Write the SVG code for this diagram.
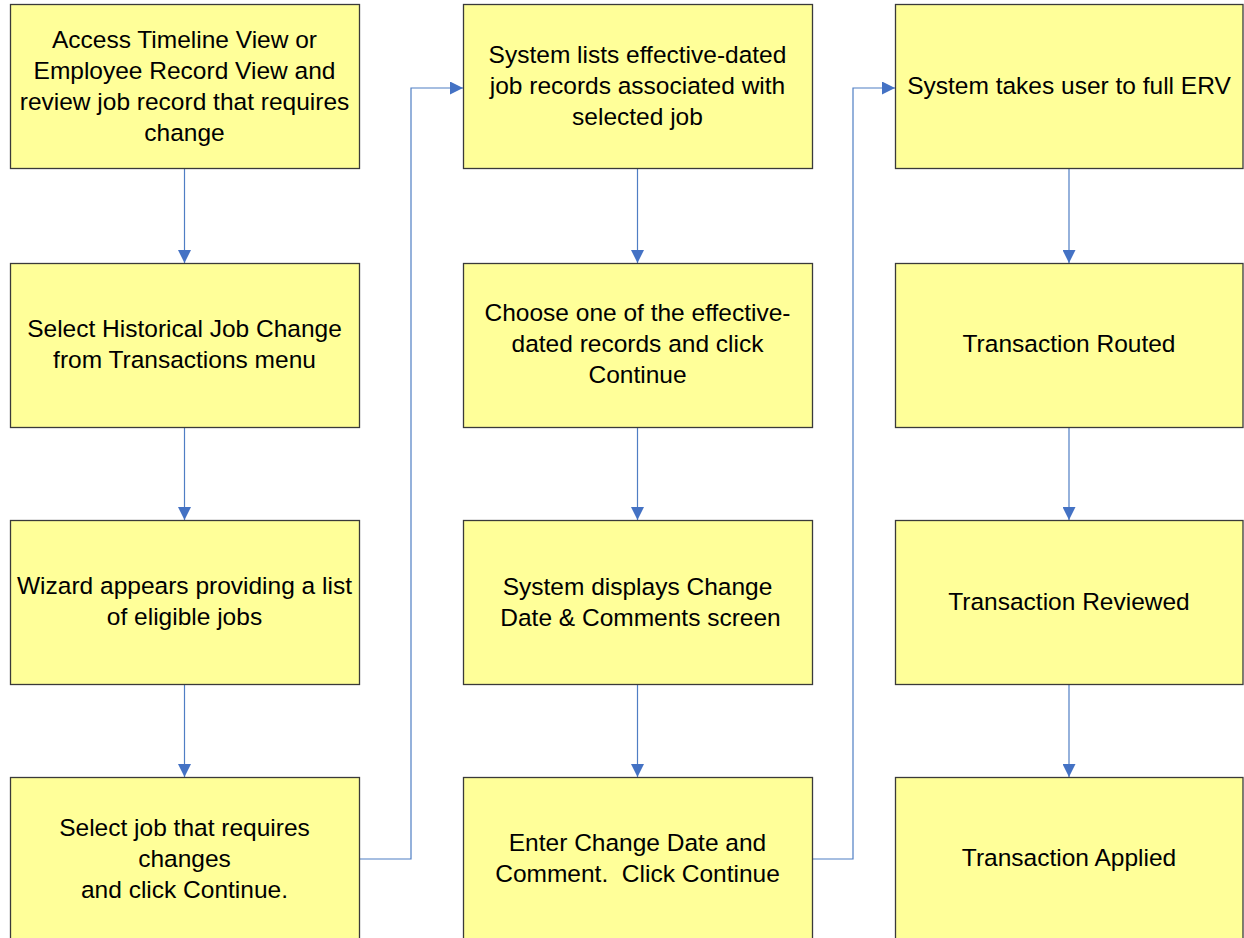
<svg xmlns="http://www.w3.org/2000/svg" width="1244" height="938" viewBox="0 0 1244 938">
<style>
.box{fill:#FFFF99;stroke:#3a3a3a;stroke-width:1.3}
.t{font-family:"Liberation Sans",Arial,sans-serif;font-size:24.5px;fill:#000;text-anchor:middle}
.c{fill:none;stroke:#4F7EC4;stroke-width:1.2}
</style>
<defs>
<marker id="ah" markerWidth="13" markerHeight="13" refX="13" refY="6.5" orient="auto" markerUnits="userSpaceOnUse">
<path d="M0,0 L13,6.5 L0,13 Z" fill="#4472C4"/>
</marker>
</defs>
<rect width="1244" height="938" fill="#fff"/>
<g id="connectors">
<line class="c" x1="184.5" y1="168" x2="184.5" y2="263" marker-end="url(#ah)"/>
<line class="c" x1="184.5" y1="427" x2="184.5" y2="520" marker-end="url(#ah)"/>
<line class="c" x1="184.5" y1="684" x2="184.5" y2="777" marker-end="url(#ah)"/>
<polyline class="c" points="359,859 411,859 411,88 463,88" marker-end="url(#ah)"/>
<line class="c" x1="637.5" y1="168" x2="637.5" y2="263" marker-end="url(#ah)"/>
<line class="c" x1="637.5" y1="427" x2="637.5" y2="520" marker-end="url(#ah)"/>
<line class="c" x1="637.5" y1="684" x2="637.5" y2="777" marker-end="url(#ah)"/>
<polyline class="c" points="812,859 853,859 853,88 895,88" marker-end="url(#ah)"/>
<line class="c" x1="1069" y1="168" x2="1069" y2="263" marker-end="url(#ah)"/>
<line class="c" x1="1069" y1="427" x2="1069" y2="520" marker-end="url(#ah)"/>
<line class="c" x1="1069" y1="684" x2="1069" y2="777" marker-end="url(#ah)"/>
</g>
<g id="n1"><rect class="box" x="10.5" y="4.5" width="349" height="164"/>
<text class="t"><tspan x="184.5" y="48">Access Timeline View or</tspan><tspan x="184.5" y="79">Employee Record View and</tspan><tspan x="184.5" y="110">review job record that requires</tspan><tspan x="184.5" y="141">change</tspan></text></g>
<g id="n2"><rect class="box" x="10.5" y="263.5" width="349" height="164"/>
<text class="t"><tspan x="184.5" y="337">Select Historical Job Change</tspan><tspan x="184.5" y="368">from Transactions menu</tspan></text></g>
<g id="n3"><rect class="box" x="10.5" y="520.5" width="349" height="164"/>
<text class="t"><tspan x="184.5" y="594">Wizard appears providing a list</tspan><tspan x="184.5" y="625">of eligible jobs</tspan></text></g>
<g id="n4"><rect class="box" x="10.5" y="777.5" width="349" height="170"/>
<text class="t"><tspan x="184.5" y="836">Select job that requires</tspan><tspan x="184.5" y="867">changes</tspan><tspan x="184.5" y="898">and click Continue.</tspan></text></g>
<g id="n5"><rect class="box" x="463.5" y="4.5" width="349" height="164"/>
<text class="t"><tspan x="637.5" y="63">System lists effective-dated</tspan><tspan x="637.5" y="94">job records associated with</tspan><tspan x="637.5" y="125">selected job</tspan></text></g>
<g id="n6"><rect class="box" x="463.5" y="263.5" width="349" height="164"/>
<text class="t"><tspan x="637.5" y="321">Choose one of the effective-</tspan><tspan x="637.5" y="352">dated records and click</tspan><tspan x="637.5" y="383">Continue</tspan></text></g>
<g id="n7"><rect class="box" x="463.5" y="520.5" width="349" height="164"/>
<text class="t"><tspan x="637.5" y="595">System displays Change</tspan><tspan x="640.5" y="626">Date &amp; Comments screen</tspan></text></g>
<g id="n8"><rect class="box" x="463.5" y="777.5" width="349" height="170"/>
<text class="t"><tspan x="637.5" y="851">Enter Change Date and</tspan><tspan x="637.5" y="882" xml:space="preserve">Comment.  Click Continue</tspan></text></g>
<g id="n9"><rect class="box" x="895.5" y="4.5" width="347.5" height="164"/>
<text class="t"><tspan x="1069" y="94">System takes user to full ERV</tspan></text></g>
<g id="n10"><rect class="box" x="895.5" y="263.5" width="347.5" height="164"/>
<text class="t"><tspan x="1069" y="352">Transaction Routed</tspan></text></g>
<g id="n11"><rect class="box" x="895.5" y="520.5" width="347.5" height="164"/>
<text class="t"><tspan x="1069" y="610">Transaction Reviewed</tspan></text></g>
<g id="n12"><rect class="box" x="895.5" y="777.5" width="347.5" height="170"/>
<text class="t"><tspan x="1069" y="866">Transaction Applied</tspan></text></g>
</svg>
